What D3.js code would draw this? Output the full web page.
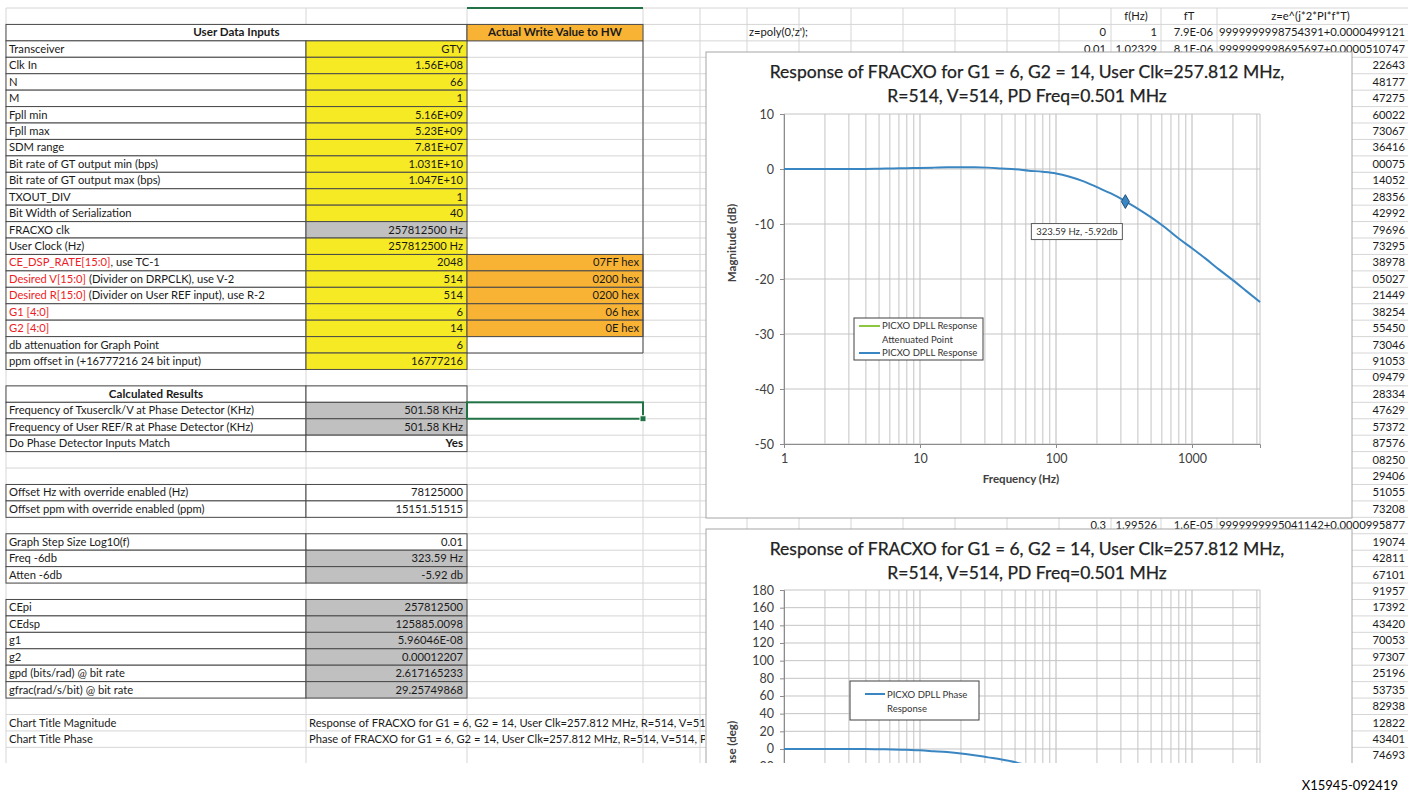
<!DOCTYPE html>
<html>
<head>
<meta charset="utf-8">
<script src="https://cdn.jsdelivr.net/npm/d3@7"></script>
<style>
  body { margin: 0; background: #fff; }
  svg text { font-family: Lato, "Open Sans", sans-serif; }
</style>
</head>
<body>
<svg id="sheet" width="1408" height="791"></svg>
<script>
// ---- spreadsheet content ----
const userRed = ["", "", "", "", "", "", "", "", "", "", "", "", "",
  "CE_DSP_RATE[15:0]", "Desired V[15:0]", "Desired R[15:0]", "G1 [4:0]", "G2 [4:0]", "", ""];
const userLabels = ["Transceiver", "Clk In", "N", "M", "Fpll min", "Fpll max", "SDM range",
  "Bit rate of GT output min (bps)", "Bit rate of GT output max (bps)", "TXOUT_DIV",
  "Bit Width of Serialization", "FRACXO clk", "User Clock (Hz)",
  ", use TC-1", " (Divider on DRPCLK), use V-2", " (Divider on User REF input), use R-2", "", "",
  "db attenuation for Graph Point", "ppm offset in (+16777216 24 bit input)"];
const userValues = ["GTY", "1.56E+08", "66", "1", "5.16E+09", "5.23E+09", "7.81E+07",
  "1.031E+10", "1.047E+10", "1", "40", "257812500 Hz", "257812500 Hz",
  "2048", "514", "514", "6", "14", "6", "16777216"];
const hwValues = ["", "", "", "", "", "", "", "", "", "", "", "", "",
  "07FF hex", "0200 hex", "0200 hex", "06 hex", "0E hex", "", ""];

const resultLabels = ["Calculated Results",
  "Frequency of Txuserclk/V at Phase Detector (KHz)",
  "Frequency of User REF/R at Phase Detector (KHz)",
  "Do Phase Detector Inputs Match", "", "",
  "Offset Hz with override enabled (Hz)", "Offset ppm with override enabled (ppm)", "",
  "Graph Step Size Log10(f)", "Freq -6db", "Atten -6db", "",
  "CEpi", "CEdsp", "g1", "g2", "gpd (bits/rad) @ bit rate", "gfrac(rad/s/bit) @ bit rate", "",
  "Chart Title Magnitude", "Chart Title Phase"];
const resultValues = ["", "501.58 KHz", "501.58 KHz", "Yes", "", "",
  "78125000", "15151.51515", "",
  "0.01", "323.59 Hz", "-5.92 db", "",
  "257812500", "125885.0098", "5.96046E-08", "0.00012207", "2.617165233", "29.25749868", "",
  "Response of FRACXO for G1 = 6, G2 = 14, User Clk=257.812 MHz,  R=514, V=514, PD Freq=0.501 MHz",
  "Phase of FRACXO for G1 = 6, G2 = 14, User Clk=257.812 MHz, R=514, V=514, PD Freq=0.501 MHz"];

const sideHeaders = ["f(Hz)", "fT", "z=e^(j*2*PI*f*T)"];
const sideIndex = ["0", "0.01", "0.3"];
const sideFreq = ["1", "1.02329", "1.99526"];
const sideFT = ["7.9E-06", "8.1E-06", "1.6E-05"];
const sideZ = ["9999999998754391+0.0000499121", "9999999998695697+0.0000510747", "9999999995041142+0.0000995877"];
const sideTails = ["10747", "22643", "48177", "47275", "60022", "73067", "36416", "00075", "14052",
  "28356", "42992", "79696", "73295", "38978", "05027", "21449", "38254", "55450", "73046",
  "91053", "09479", "28334", "47629", "57372", "87576", "08250", "29406", "51055", "73208",
  "95877", "19074", "42811", "67101", "91957", "17392", "43420", "70053", "97307", "25196",
  "53735", "82938", "12822", "43401", "74693"];

// ---- chart data ----
const freqHz = [1, 1.26, 1.58, 2, 2.51, 3.16, 3.98, 5.01, 6.31, 7.94,
  10, 12.6, 15.8, 20, 25.1, 31.6, 39.8, 50.1, 63.1, 79.4,
  100, 126, 158, 200, 251, 316, 398, 501, 631, 794,
  1000, 1259, 1585, 1995, 2512, 3162];
const magDb = [0, 0, 0, 0, 0, 0, 0, 0.05, 0.1, 0.15,
  0.2, 0.25, 0.3, 0.3, 0.3, 0.25, 0.1, -0.05, -0.3, -0.5,
  -0.8, -1.4, -2.2, -3.3, -4.4, -5.7, -7.2, -8.8, -10.6, -12.6,
  -14.4, -16.3, -18.3, -20.2, -22.2, -24.2];
const phaseDeg = [0, 0, 0, 0, 0, 0, 0, -0.3, -0.5, -1,
  -1.5, -2.5, -3.5, -5, -7, -9.5, -12, -15, -19, -23,
  -28, -33, -38, -44, -50, -56, -61, -66, -70, -74,
  -77, -80, -82, -84, -85, -86];
const attenPoint = [{ f: 323.59, db: -5.92 }];
const attenLabel = "323.59 Hz, -5.92db";
const magTitle = ["Response of FRACXO for G1 = 6, G2 = 14, User Clk=257.812 MHz,", "R=514, V=514, PD Freq=0.501 MHz"];
const phaseTitle = ["Response of FRACXO for G1 = 6, G2 = 14, User Clk=257.812 MHz,", "R=514, V=514, PD Freq=0.501 MHz"];
const magTicks = [-50, -40, -30, -20, -10, 0, 10];
const phaseTicks = [-100, -80, -60, -40, -20, 0, 20, 40, 60, 80, 100, 120, 140, 160, 180];
const freqTicks = [1, 10, 100, 1000];

// ---- layout ----
const rowTop = 8, rowH = 16.43, sheetBottom = 763;
const ry = r => rowTop + r * rowH;
const colX = [6, 306, 467, 643, 700, 747, 799, 851, 903, 955, 1007, 1059, 1111, 1161, 1217];
const YELLOW = "#f6ea25", ORANGE = "#f8b334", GRAY = "#c0c0c0", BORDER = "#4a4a4a", GRID = "#d6d6d6";
const RED = "#ee1c25", BLUE = "#3a86c2", GREEN = "#8dc63f";
const FS = 11.2, FSB = 11.6;

const svg = d3.select("#sheet");
svg.append("rect").attr("width", 1408).attr("height", 791).attr("fill", "#fff");
const defs = svg.append("defs");
defs.append("clipPath").attr("id", "sheetClip")
  .append("rect").attr("x", 0).attr("y", 0).attr("width", 1408).attr("height", sheetBottom);
defs.append("clipPath").attr("id", "leftClip")
  .append("rect").attr("x", 0).attr("y", 0).attr("width", 705).attr("height", sheetBottom);
const sheet = svg.append("g").attr("clip-path", "url(#sheetClip)");

// gridlines
sheet.selectAll(".hgrid").data(d3.range(0, 47)).enter().append("line")
  .attr("x1", colX[0]).attr("x2", 1408).attr("y1", d => ry(d)).attr("y2", d => ry(d))
  .attr("stroke", GRID);
sheet.selectAll(".vgrid").data(colX).enter().append("line")
  .attr("x1", d => d).attr("x2", d => d).attr("y1", ry(0)).attr("y2", sheetBottom)
  .attr("stroke", GRID);

function cell(x0, x1, r, fill, border) {
  sheet.append("rect").attr("x", x0).attr("y", ry(r)).attr("width", x1 - x0).attr("height", rowH)
    .attr("fill", fill || "#fff").attr("stroke", border ? BORDER : "none").attr("stroke-width", 1);
}
function txt(x, r, s, anchor, opts) {
  opts = opts || {};
  return (opts.parent || sheet).append("text").attr("x", x).attr("y", ry(r) + rowH / 2 + 3.8)
    .attr("text-anchor", anchor || "start").attr("font-size", opts.size || FS)
    .attr("font-weight", opts.bold ? "bold" : "normal").attr("fill", opts.color || "#1a1a1a")
    .text(s);
}

// user inputs table
cell(colX[0], colX[2], 1, "#fff", true);
txt((colX[0] + colX[2]) / 2, 1, "User Data Inputs", "middle", { bold: true, size: FSB });
cell(colX[2], colX[3], 1, ORANGE, true);
txt((colX[2] + colX[3]) / 2, 1, "Actual Write Value to HW", "middle", { bold: true, size: FSB });

userLabels.forEach((lab, i) => {
  const r = i + 2;
  cell(colX[0], colX[1], r, "#fff", true);
  cell(colX[1], colX[2], r, i === 11 ? GRAY : YELLOW, true);
  const t = txt(colX[0] + 3, r, "");
  if (userRed[i]) t.append("tspan").attr("fill", RED).text(userRed[i]);
  t.append("tspan").text(lab);
  txt(colX[2] - 4, r, userValues[i], "end");
  if (hwValues[i]) {
    cell(colX[2], colX[3], r, ORANGE, true);
    txt(colX[3] - 4, r, hwValues[i], "end");
  }
});
sheet.append("line").attr("x1", colX[3]).attr("x2", colX[3]).attr("y1", ry(2)).attr("y2", ry(21))
  .attr("stroke", BORDER);
sheet.append("line").attr("x1", colX[2]).attr("x2", colX[3]).attr("y1", ry(21)).attr("y2", ry(21))
  .attr("stroke", BORDER);

// calculated results
const grayResults = new Set([1, 2, 10, 11, 13, 14, 15, 16, 17, 18]);
const spill = sheet.append("g").attr("clip-path", "url(#leftClip)");
resultLabels.forEach((lab, i) => {
  const r = i + 23;
  if (!lab) return;
  if (i < 20) {
    cell(colX[0], colX[1], r, "#fff", true);
    cell(colX[1], colX[2], r, grayResults.has(i) ? GRAY : "#fff", true);
  }
  if (i === 0) {
    txt((colX[0] + colX[1]) / 2, r, lab, "middle", { bold: true, size: FSB });
  } else {
    txt(colX[0] + 3, r, lab);
  }
  if (i >= 20) txt(colX[1] + 3, r, resultValues[i], "start", { parent: spill });
  else if (resultValues[i]) txt(colX[2] - 4, r, resultValues[i], "end", { bold: i === 3, size: i === 3 ? FSB : FS });
});

// selection marks
sheet.append("line").attr("x1", colX[2]).attr("x2", colX[3]).attr("y1", ry(0)).attr("y2", ry(0))
  .attr("stroke", "#217346").attr("stroke-width", 2);
sheet.append("rect").attr("x", colX[2]).attr("y", ry(24)).attr("width", colX[3] - colX[2]).attr("height", rowH)
  .attr("fill", "none").attr("stroke", "#217346").attr("stroke-width", 2);
sheet.append("rect").attr("x", colX[3] - 3).attr("y", ry(25) - 3).attr("width", 6).attr("height", 6)
  .attr("fill", "#217346").attr("stroke", "#fff");

// right-hand columns
sideHeaders.forEach((h, i) => {
  const c0 = colX[12 + i], c1 = i < 2 ? colX[13 + i] : 1404;
  txt((c0 + c1) / 2, 0, h, "middle");
});
txt(colX[5] + 2, 1, "z=poly(0,'z');");
const sideRows = [1, 2, 31];
sideRows.forEach((r, i) => {
  txt(colX[12] - 5, r, sideIndex[i], "end");
  txt(colX[13] - 4, r, sideFreq[i], "end");
  txt(colX[14] - 4, r, sideFT[i], "end");
  txt(colX[14] + 2, r, sideZ[i]).attr("textLength", 1405 - colX[14] - 2).attr("lengthAdjust", "spacingAndGlyphs");
});
sideTails.forEach((s, i) => {
  if (sideRows.includes(i + 2)) return;
  txt(1405, i + 2, s, "end");
});

// ---- charts ----
function drawChart(opts) {
  const g = sheet.append("g");
  g.append("rect").attr("x", opts.box[0]).attr("y", opts.box[1]).attr("width", opts.box[2]).attr("height", opts.box[3])
    .attr("fill", "#fff").attr("stroke", "#a6a6a6");
  const x = d3.scaleLog().domain([1, 3162]).range([784, 1260]);
  const y = d3.scaleLinear().domain(opts.yDomain).range(opts.yRange);
  const [py1, py0] = opts.yRange;

  opts.title.forEach((t, i) => {
    g.append("text").attr("x", 1027).attr("y", opts.box[1] + 26 + i * 23.5).attr("text-anchor", "middle")
      .attr("font-size", 17.5).attr("fill", "#222").attr("stroke", "#222").attr("stroke-width", 0.25).text(t);
  });

  // minor + major vertical grid
  const vgrid = [];
  for (let d = 0; d < 4; d++) for (let m = 1; m < 10; m++) {
    const f = m * Math.pow(10, d);
    if (f <= 3162) vgrid.push(f);
  }
  g.selectAll(".vg").data(vgrid).enter().append("line")
    .attr("x1", d => x(d)).attr("x2", d => x(d)).attr("y1", py0).attr("y2", py1)
    .attr("stroke", "#c4c4c4").attr("stroke-width", d => freqTicks.includes(d) ? 1.2 : 1);
  g.selectAll(".hg").data(opts.yTicks).enter().append("line")
    .attr("x1", 784).attr("x2", 1260).attr("y1", d => y(d)).attr("y2", d => y(d))
    .attr("stroke", "#c4c4c4");
  g.append("line").attr("x1", 1260).attr("x2", 1260).attr("y1", py0).attr("y2", py1).attr("stroke", "#c4c4c4");

  const yAxis = g.append("g").attr("transform", "translate(784,0)")
    .call(d3.axisLeft(y).tickValues(opts.yTicks).tickFormat(d => String(d)).tickSize(4).tickPadding(6));
  const xAxis = g.append("g").attr("transform", `translate(0,${py1})`)
    .call(d3.axisBottom(x).tickValues(freqTicks).tickFormat(d => String(d)).tickSize(4).tickPadding(6));
  [yAxis, xAxis].forEach(a => {
    a.select(".domain").attr("stroke", "#8c8c8c");
    a.selectAll(".tick line").attr("stroke", "#8c8c8c");
    a.selectAll("text").attr("font-size", 12.5).attr("fill", "#404040").attr("font-family", "Lato, sans-serif");
  });

  g.append("text").attr("transform", `translate(736,${opts.yTitleY}) rotate(-90)`).attr("text-anchor", "middle")
    .attr("font-size", 11.5).attr("font-weight", "bold").attr("fill", "#404040").text(opts.yTitle);
  if (opts.xTitle) {
    g.append("text").attr("x", 1021).attr("y", py1 + 39).attr("text-anchor", "middle")
      .attr("font-size", 11.5).attr("font-weight", "bold").attr("fill", "#404040").text(opts.xTitle);
  }

  const line = d3.line().x((d, i) => x(freqHz[i])).y(d => y(d)).curve(d3.curveMonotoneX);
  g.append("path").datum(opts.values).attr("d", line)
    .attr("fill", "none").attr("stroke", BLUE).attr("stroke-width", 2);
  return { g, x, y };
}

const mag = drawChart({
  box: [706, 52, 646, 466], yDomain: [-50, 10], yRange: [444, 114], yTicks: magTicks,
  title: magTitle, yTitle: "Magnitude (dB)", yTitleY: 243, xTitle: "Frequency (Hz)", values: magDb
});

mag.g.selectAll(".pt").data(attenPoint).enter().append("path")
  .attr("transform", d => `translate(${mag.x(d.f)},${mag.y(d.db)})`)
  .attr("d", d3.symbol(d3.symbolDiamond, 55))
  .attr("fill", BLUE).attr("stroke", "#1f4e79").attr("stroke-width", 1);
attenPoint.forEach(d => {
  const lx = mag.x(d.f) - 94, ly = mag.y(d.db) + 22;
  mag.g.append("rect").attr("x", lx).attr("y", ly).attr("width", 91).attr("height", 16)
    .attr("fill", "#fff").attr("stroke", "#595959");
  mag.g.append("text").attr("x", lx + 45.5).attr("y", ly + 11.5).attr("text-anchor", "middle")
    .attr("font-size", 9.5).attr("fill", "#333").text(attenLabel);
});

// magnitude legend
const lg = mag.g.append("g");
lg.append("rect").attr("x", 854).attr("y", 318).attr("width", 129).attr("height", 42)
  .attr("fill", "#fff").attr("stroke", "#404040");
[["PICXO DPLL Response", GREEN], ["Attenuated Point", null], ["PICXO DPLL Response", BLUE]].forEach((e, i) => {
  const yy = 326 + i * 13.5;
  if (e[1]) lg.append("line").attr("x1", 859).attr("x2", 880).attr("y1", yy).attr("y2", yy)
    .attr("stroke", e[1]).attr("stroke-width", 2);
  lg.append("text").attr("x", 882).attr("y", yy + 3.3).attr("font-size", 9.5).attr("fill", "#333").text(e[0]);
});

const ph = drawChart({
  box: [706, 529, 646, 360], yDomain: [-100, 180], yRange: [749 + 100 * 0.883, 590], yTicks: phaseTicks,
  title: phaseTitle, yTitle: "Phase (deg)", yTitleY: 750, xTitle: null, values: phaseDeg
});

// phase legend
const pl = ph.g.append("g");
pl.append("rect").attr("x", 850).attr("y", 681).attr("width", 129).attr("height", 39)
  .attr("fill", "#fff").attr("stroke", "#404040");
pl.append("line").attr("x1", 865).attr("x2", 885).attr("y1", 694).attr("y2", 694)
  .attr("stroke", BLUE).attr("stroke-width", 2);
pl.append("text").attr("x", 887).attr("y", 697.5).attr("font-size", 9.5).attr("fill", "#333").text("PICXO DPLL Phase");
pl.append("text").attr("x", 887).attr("y", 711.5).attr("font-size", 9.5).attr("fill", "#333").text("Response");

// figure id
svg.append("text").attr("x", 1398).attr("y", 790).attr("text-anchor", "end")
  .attr("font-family", "Liberation Sans, Arial, sans-serif").attr("font-size", 13).attr("fill", "#000")
  .text("X15945-092419");
</script>
</body>
</html>
